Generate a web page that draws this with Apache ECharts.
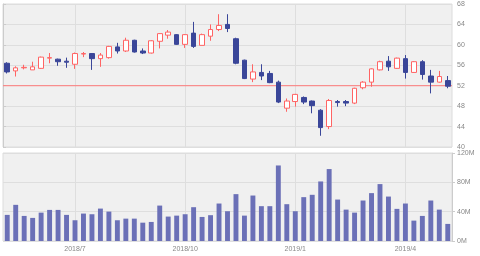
<!DOCTYPE html>
<html><head><meta charset="utf-8">
<script src="https://cdn.jsdelivr.net/npm/echarts@6/dist/echarts.min.js"></script>
<style>html,body{margin:0;padding:0;background:#fff}#c{width:480px;height:256px}</style>
</head><body><div id="c"></div>
<script>
const dates = ['2018-05-11','2018-05-18','2018-05-25','2018-06-01','2018-06-08','2018-06-15','2018-06-22','2018-06-29',
'2018-07-06','2018-07-13','2018-07-20','2018-07-27','2018-08-03','2018-08-10','2018-08-17','2018-08-24','2018-08-31',
'2018-09-07','2018-09-14','2018-09-21','2018-09-28','2018-10-05','2018-10-12','2018-10-19','2018-10-26',
'2018-11-02','2018-11-09','2018-11-16','2018-11-23','2018-11-30','2018-12-07','2018-12-14','2018-12-21','2018-12-28',
'2019-01-04','2019-01-11','2019-01-18','2019-01-25','2019-02-01','2019-02-08','2019-02-15','2019-02-22',
'2019-03-01','2019-03-08','2019-03-15','2019-03-22','2019-03-29','2019-04-05','2019-04-12','2019-04-19','2019-04-26',
'2019-05-03','2019-05-10'];
const opens  = [56.4,54.9,55.5,55.1,55.4,57.4,57.2,56.8,56.2,58.2,58.3,57.3,57.5,59.6,58.8,60.9,58.8,58.4,60.7,61.9,62.0,60.1,62.3,59.9,61.7,63.0,64.0,61.2,57.0,53.3,54.6,54.4,52.7,47.6,48.9,49.7,49.0,47.2,44.0,48.9,48.9,48.6,51.6,52.7,55.1,56.8,55.4,57.3,54.6,56.7,53.9,52.7,53.0];
const closes = [54.7,55.5,55.6,55.7,57.6,57.5,56.7,56.6,58.3,58.3,57.3,58.0,59.7,58.8,60.9,58.6,58.4,60.8,62.2,62.5,60.1,62.0,59.7,62.0,63.0,63.8,63.2,56.4,53.4,54.7,53.9,52.6,48.8,49.0,50.3,48.8,48.1,43.8,49.1,48.7,48.6,51.5,52.7,55.3,56.7,55.7,57.4,54.6,56.7,54.2,52.7,53.8,51.9];
const lows   = [54.4,53.8,55.2,55.1,55.3,56.4,55.9,55.5,55.3,57.6,55.1,55.7,57.3,58.3,58.6,58.5,58.2,58.3,59.3,61.2,60.0,59.4,59.4,59.9,60.8,62.7,62.5,56.2,53.3,52.7,53.1,52.5,48.6,46.9,47.9,48.4,46.6,42.2,43.5,47.9,48.0,48.4,51.3,51.8,55.0,54.9,55.3,53.4,54.5,53.2,50.5,52.6,51.5];
const highs  = [56.6,55.8,56.1,56.7,57.7,58.4,57.3,57.5,58.5,58.6,58.4,58.4,59.8,60.4,61.4,61.0,59.3,60.9,62.3,62.9,62.1,62.1,64.5,62.2,64.0,66.0,66.0,61.4,57.1,56.2,56.2,54.9,53.0,49.5,50.4,49.9,49.1,47.4,49.4,49.2,49.2,51.6,52.9,55.4,56.9,57.8,57.5,58.0,56.8,57.0,55.1,54.9,53.9];
const volumesM = [35.6,49.3,34.2,31.5,38.7,42.4,42.4,35.6,28.3,37.4,36.5,44.2,40.1,28.3,30.5,30.5,25,26,48.3,
33.3,34.6,36.5,46.1,32.8,35.2,51.1,40.6,63.9,34.6,62,47.5,47.5,103,50.2,40.6,59.8,63,81.2,
98.1,56.5,42.8,38.7,55.2,65.3,77.6,60.6,43.8,51.1,27.8,34.2,55.2,42.8,23.3];
const priceTicks = [40,44,48,52,56,60,64,68];
const priceStep = 4;
const volMin = 0, volMax = 120, volStep = 40;
const refLine = 52;
const monthLabels = ['2018/7','2018/10','2019/1','2019/4'];

function fmtMonth(d){ const p = d.split('-'); return p[0] + '/' + parseInt(p[1],10); }
const labelIdx = [];
dates.forEach((d,i)=>{
  const m = fmtMonth(d);
  if (monthLabels.includes(m) && (i===0 || fmtMonth(dates[i-1]) !== m)) labelIdx.push(i);
});
const candleData = dates.map((d,i)=>[opens[i], closes[i], lows[i], highs[i]]);
const GRID = '#dedede', REF = '#ff7a7a';

const font = {color:'#888', fontSize:7, fontFamily:'Liberation Sans'};
const vGrid = (xi, yi) => ({type:'line', xAxisIndex:xi, yAxisIndex:yi, data:[], silent:true, color:GRID,
  markLine:{silent:true, symbol:'none', z:1, label:{show:false}, animation:false,
    lineStyle:{color:GRID, type:'solid', width:1},
    data: labelIdx.map(i=>({xAxis:dates[i]}))}});
const chart = echarts.init(document.getElementById('c'), null, {renderer:'canvas'});
chart.setOption({
  animation:false,
  grid:[
    {left:3, right:28, top:4, height:143, show:true, backgroundColor:'#f0f0f0', borderColor:'#dcdcdc', borderWidth:1},
    {left:3, right:28, top:153, height:88, show:true, backgroundColor:'#f0f0f0', borderColor:'#dcdcdc', borderWidth:1}
  ],
  xAxis:[
    {type:'category', gridIndex:0, data:dates, axisLabel:{show:false}, axisTick:{show:false}, axisLine:{show:false}, splitLine:{show:false}},
    {type:'category', gridIndex:1, data:dates, axisTick:{show:false}, axisLine:{show:false}, splitLine:{show:false},
     axisLabel:Object.assign({interval:(i)=>labelIdx.includes(i), formatter:(v)=>fmtMonth(v), margin:5}, font)},
    {type:'value', gridIndex:0, min:0, max:1, show:false}
  ],
  yAxis:[
    {type:'value', gridIndex:0, position:'right', min:priceTicks[0], max:priceTicks[priceTicks.length-1], interval:priceStep,
     axisLine:{show:true, lineStyle:{color:'#cccccc'}}, axisTick:{show:true, length:3, lineStyle:{color:'#cccccc'}},
     splitLine:{lineStyle:{color:GRID}}, axisLabel:Object.assign({margin:5}, font)},
    {type:'value', gridIndex:1, position:'right', min:volMin, max:volMax, interval:volStep,
     axisLine:{show:true, lineStyle:{color:'#cccccc'}}, axisTick:{show:true, length:3, lineStyle:{color:'#cccccc'}},
     splitLine:{lineStyle:{color:GRID}}, axisLabel:Object.assign({margin:5, formatter:(v)=>v+'M'}, font)}
  ],
  series:[
    vGrid(0,0),
    vGrid(1,1),
    {type:'line', xAxisIndex:2, yAxisIndex:0, data:[[0, refLine],[1, refLine]], symbol:'none', silent:true, z:3,
     lineStyle:{color:REF, width:1}, itemStyle:{color:REF}},
    {type:'candlestick', xAxisIndex:0, yAxisIndex:0, data:candleData, barWidth:'60%', z:4,
     itemStyle:{color:'#ffffff', color0:'#3a4699', borderColor:'#ff6464', borderColor0:'#3a4699', borderWidth:1}},
    {type:'bar', xAxisIndex:1, yAxisIndex:1, data:volumesM, barWidth:'58%', itemStyle:{color:'#6b70b7'}}
  ]
});
</script></body></html>
